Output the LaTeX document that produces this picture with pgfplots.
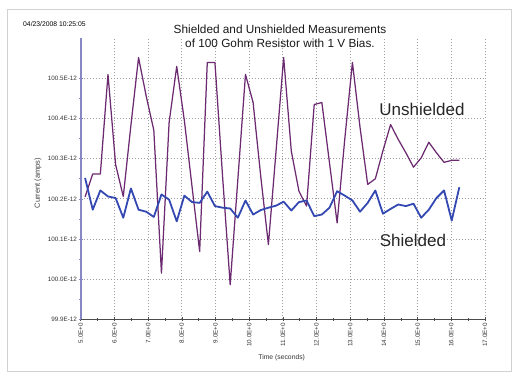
\documentclass[border=0pt]{standalone}
\usepackage{fontspec}
\setmainfont{Liberation Sans}
\usepackage{pgfplots}
\usepackage{pgfplotstable}
\pgfplotsset{compat=1.18}
\definecolor{unsh}{RGB}{108,42,112}
\definecolor{shl}{RGB}{52,72,178}
\definecolor{yax}{RGB}{135,135,195}
\pgfplotstableread{
t u s
5.130 100.205 100.252
5.357 100.262 100.173
5.583 100.262 100.221
5.810 100.510 100.206
6.037 100.285 100.202
6.264 100.206 100.153
6.490 100.383 100.226
6.717 100.552 100.173
6.944 100.456 100.168
7.170 100.371 100.155
7.397 100.015 100.211
7.624 100.390 100.198
7.850 100.530 100.144
8.077 100.395 100.208
8.304 100.231 100.192
8.531 100.069 100.190
8.757 100.540 100.218
8.984 100.540 100.182
9.211 100.256 100.178
9.437 99.986 100.176
9.664 100.248 100.153
9.891 100.510 100.196
10.117 100.440 100.161
10.344 100.256 100.172
10.571 100.086 100.178
10.798 100.319 100.183
11.024 100.552 100.193
11.251 100.319 100.171
11.478 100.219 100.192
11.704 100.182 100.196
11.931 100.435 100.157
12.158 100.440 100.161
12.384 100.290 100.178
12.611 100.140 100.219
12.838 100.349 100.208
13.065 100.540 100.196
13.291 100.378 100.168
13.518 100.236 100.190
13.745 100.250 100.221
13.971 100.320 100.163
14.198 100.385 100.175
14.425 100.348 100.186
14.651 100.315 100.182
14.878 100.279 100.188
15.105 100.302 100.153
15.332 100.341 100.173
15.558 100.315 100.202
15.785 100.291 100.221
16.012 100.296 100.146
16.238 100.296 100.229
}\datatab
\begin{document}
\begin{tikzpicture}[x=1pt,y=1pt]
\path[use as bounding box] (0,0) rectangle (517,379);
\draw[gray!35] (7,8) rectangle (511,370);
\node[anchor=west,font=\fontsize{6.8}{7}\selectfont,inner sep=0pt] at (23,355) {04/23/2008 10:25:05};
\begin{axis}[
  at={(80.7pt,59.7pt)}, anchor=south west,
  scale only axis, width=404.3pt, height=281pt,
  xmin=5, xmax=17, ymin=99.9, ymax=100.6,
  xtick={5,...,17},
  xticklabels={5.0E+0,6.0E+0,7.0E+0,8.0E+0,9.0E+0,10.0E+0,11.0E+0,12.0E+0,13.0E+0,14.0E+0,15.0E+0,16.0E+0,17.0E+0},
  minor x tick num=1,
  ytick={99.9,100,100.1,100.2,100.3,100.4,100.5},
  yticklabels={99.9E-12,100.0E-12,100.1E-12,100.2E-12,100.3E-12,100.4E-12,100.5E-12},
  minor y tick num=1,
  axis x line*=bottom, axis y line*=left,
  x axis line style={draw=black!70, line width=0.7pt, -},
  y axis line style={draw=yax, line width=1.6pt, -},
  xtick style={draw=black!70, line width=0.5pt},
  ytick style={draw=yax, line width=0.7pt},
  tick align=center,
  major tick length=4pt, minor tick length=3pt,
  grid=major,
  major grid style={dash pattern=on 0.8pt off 2.2pt, gray!75, line width=0.8pt},
  xticklabel style={rotate=90, anchor=east, font=\fontsize{6.3}{7}\selectfont, text=black!80, inner sep=1.5pt},
  yticklabel style={font=\fontsize{6.3}{7}\selectfont, text=black!80, inner sep=1.5pt},
  clip=false,
]
\addplot[unsh, line width=1.25pt, line join=round] table[x=t,y=u] {\datatab};
\addplot[shl, line width=1.8pt, line join=round] table[x=t,y=s] {\datatab};
\node[font=\fontsize{17}{18}\selectfont, text=black!85] at (axis cs:15.13,100.424) {Unshielded};
\node[font=\fontsize{17}{18}\selectfont, text=black!85] at (axis cs:14.86,100.097) {Shielded};
\end{axis}
\node[align=center, font=\fontsize{11.8}{14}\selectfont, text=black!90] at (280,343) {Shielded and Unshielded Measurements\\of 100 Gohm Resistor with 1 V Bias.};
\node[rotate=90, font=\fontsize{7.5}{8}\selectfont, text=black!75] at (38,196) {Current (amps)};
\node[font=\fontsize{6.8}{8}\selectfont, text=black!80] at (281.7,21.3) {Time (seconds)};
\end{tikzpicture}
\end{document}
